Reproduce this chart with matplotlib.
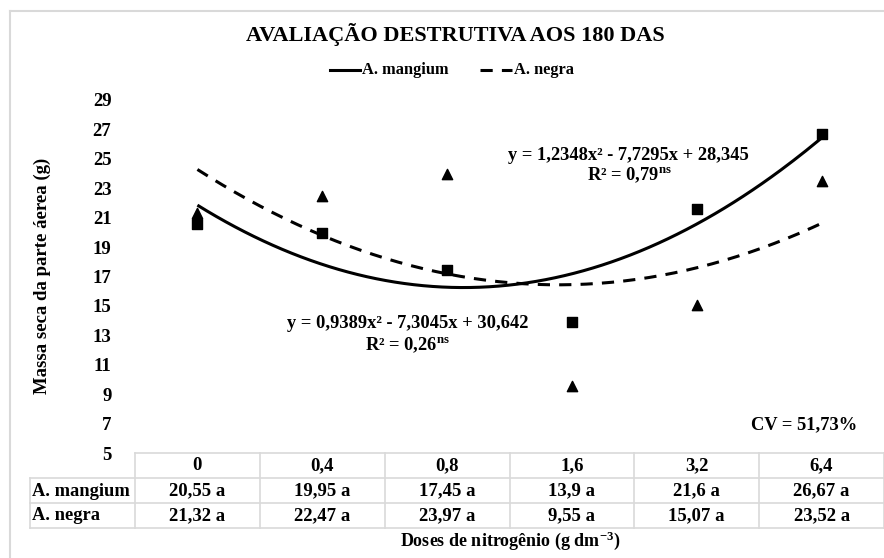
import numpy as np
import matplotlib
matplotlib.use("Agg")
import matplotlib.pyplot as plt
from matplotlib.transforms import blended_transform_factory
from matplotlib.lines import Line2D

plt.rcParams['font.family'] = ['Liberation Serif', 'DejaVu Serif']
plt.rcParams['font.weight'] = 'bold'
plt.rcParams['mathtext.fontset'] = 'custom'
plt.rcParams['mathtext.rm'] = 'Liberation Serif:bold'
plt.rcParams['mathtext.it'] = 'Liberation Serif:bold'
plt.rcParams['mathtext.bf'] = 'Liberation Serif:bold'

# ---- data ----
doses = ["0", "0,4", "0,8", "1,6", "3,2", "6,4"]
mangium = [20.55, 19.95, 17.45, 13.9, 21.6, 26.67]
negra = [21.32, 22.47, 23.97, 9.55, 15.07, 23.52]
mangium_txt = ["20,55", "19,95", "17,45", "13,9", "21,6", "26,67"]
negra_txt = ["21,32", "22,47", "23,97", "9,55", "15,07", "23,52"]
mangium_letters = ["a", "a", "a", "a", "a", "a"]
negra_letters = ["a", "a", "a", "a", "a", "a"]
coef_mangium = [1.2348, -7.7295, 28.345]
coef_negra = [0.9389, -7.3045, 30.642]
eq_mangium = "y = 1,2348x² - 7,7295x + 28,345"
r2_mangium = "R² = 0,79$^{\\mathrm{ns}}$"
eq_negra = "y = 0,9389x² - 7,3045x + 30,642"
r2_negra = "R² = 0,26$^{\\mathrm{ns}}$"
yticks = [5, 7, 9, 11, 13, 15, 17, 19, 21, 23, 25, 27, 29]
cv_text = "CV = 51,73%"

W, H = 884, 558
fig = plt.figure(figsize=(W / 100, H / 100), dpi=100)

# overlay in pixel coordinates
ov = fig.add_axes([0, 0, 1, 1])
ov.set_xlim(0, W)
ov.set_ylim(H, 0)
ov.axis('off')

def fx(px):
    return px / W

def fy(py):
    return 1 - py / H

left, right, top, bottom = 135, 884, 100, 453
ax = fig.add_axes([fx(left), fy(bottom), fx(right) - fx(left), fy(top) - fy(bottom)])
ax.set_zorder(2)
ax.patch.set_alpha(0)
x = np.arange(1, len(doses) + 1)
ax.set_xlim(0.5, len(doses) + 0.5)
ax.set_ylim(5, 29)
ax.set_yticks(yticks)
ax.set_yticklabels([str(t) for t in yticks], fontsize=13.5, fontweight='bold')
ax.tick_params(axis='y', length=0, pad=17)
ax.set_xticks([])
for s in ax.spines.values():
    s.set_visible(False)

# trend lines
xs = np.linspace(1, len(doses), 200)
ax.plot(xs, np.polyval(coef_mangium, xs), color='black', lw=2.2, solid_capstyle='butt')
ax.plot(xs, np.polyval(coef_negra, xs), color='black', lw=2.2, ls=(0, (4, 3)))

# markers
ax.scatter(x, mangium, marker='s', s=60, color='black', zorder=3)
ax.scatter(x, negra, marker='^', s=55, color='black', zorder=3)

# equations
ov.text(628, 155, eq_mangium, ha='center', va='center', fontsize=13.3, fontweight='bold')
ov.text(630, 175, r2_mangium, ha='center', va='center', fontsize=13.3, fontweight='bold')
ov.text(408, 324, eq_negra, ha='center', va='center', fontsize=13.3, fontweight='bold')
ov.text(408, 345, r2_negra, ha='center', va='center', fontsize=13.3, fontweight='bold')
ov.text(857, 425, cv_text, ha='right', va='center', fontsize=13.3, fontweight='bold')

# title & legend
ov.text(455, 34, "AVALIAÇÃO DESTRUTIVA AOS 180 DAS", ha='center', va='center',
        fontsize=16, fontweight='bold')
ov.add_line(Line2D([330, 360], [70, 70], color='black', lw=2.2))
ov.text(362, 70, "A. mangium", ha='left', va='center', fontsize=11.8, fontweight='bold')
ov.add_line(Line2D([480, 512], [70, 70], color='black', lw=2.2, ls=(0, (4, 3))))
ov.text(514, 70, "A. negra", ha='left', va='center', fontsize=11.8, fontweight='bold')

# y label
ov.text(42, 276, "Massa seca da parte áerea (g)", ha='center', va='center', rotation=90,
        fontsize=13.5, fontweight='bold')

# x label
ov.text(510, 541, "Doses de nitrogênio (g dm$^{-3}$)", ha='center', va='center',
        fontsize=13, fontweight='bold')

# data table (x in data coords of ax, y in pixels)
bt = blended_transform_factory(ax.transData, ov.transData)
grid = '#d9d9d9'
rows_y = [453, 478, 503, 528]
n = len(doses)
ov.add_line(Line2D([left, right], [rows_y[0], rows_y[0]], color=grid, lw=1.2))
for yy in rows_y[1:]:
    ov.add_line(Line2D([30, right], [yy, yy], color=grid, lw=1.2))
ov.add_line(Line2D([30, 30], [rows_y[1], rows_y[3]], color=grid, lw=1.2))
for i in range(n + 1):
    xb = 0.5 + i
    ov.add_line(Line2D([xb, xb], [rows_y[0], rows_y[3]], color=grid, lw=1.2, transform=bt))

for i in range(n):
    ov.text(x[i], 466, doses[i], ha='center', va='center', fontsize=13.5, fontweight='bold',
            transform=bt)
    ov.text(x[i], 491, f"{mangium_txt[i]} {mangium_letters[i]}", ha='center', va='center',
            fontsize=13.5, fontweight='bold', transform=bt)
    ov.text(x[i], 516, f"{negra_txt[i]} {negra_letters[i]}", ha='center', va='center',
            fontsize=13.5, fontweight='bold', transform=bt)
ov.text(32, 491, "A. mangium", ha='left', va='center', fontsize=13.3, fontweight='bold')
ov.text(32, 516, "A. negra", ha='left', va='center', fontsize=13.3, fontweight='bold')

# outer frame (light gray)
ov.add_line(Line2D([10, W], [11, 11], color=grid, lw=1.5))
ov.add_line(Line2D([10, 10], [11, H], color=grid, lw=1.5))

fig.savefig("out.png", dpi=100)
